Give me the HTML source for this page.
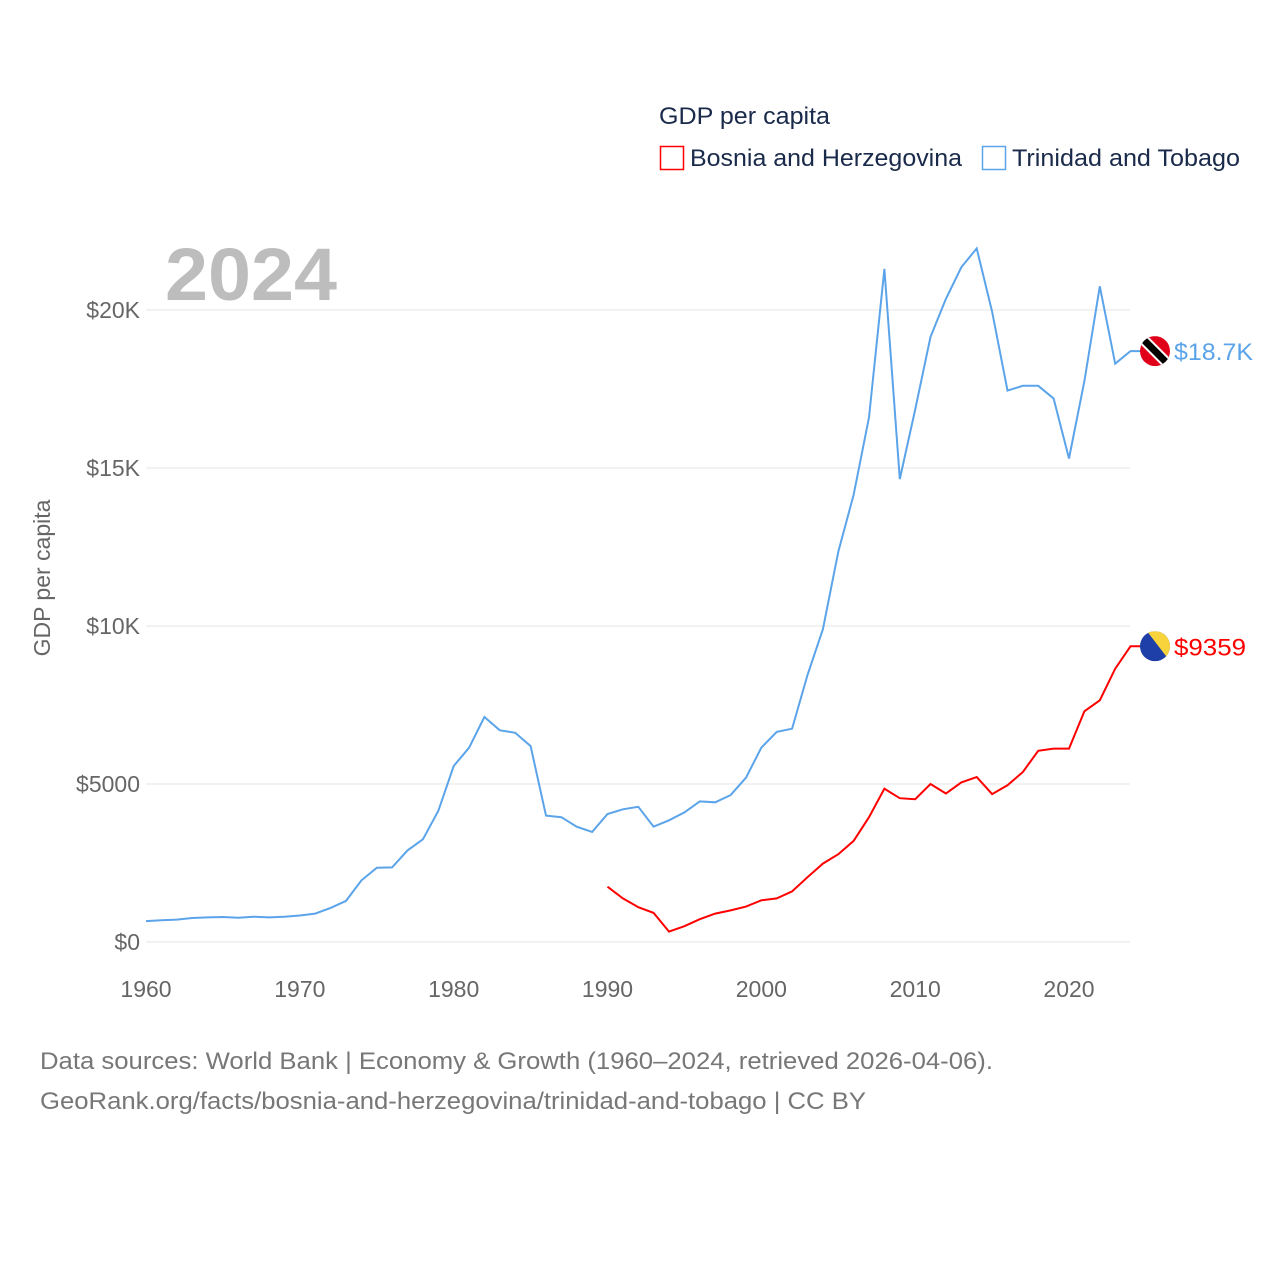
<!DOCTYPE html>
<html><head><meta charset="utf-8"><style>
body{margin:0;background:#fff;}
svg{display:block;font-family:"Liberation Sans",sans-serif;}
</style></head><body>
<svg width="1280" height="1280" viewBox="0 0 1280 1280">
<g id="grid"></g>
<text x="165" y="300" font-size="74" font-weight="bold" fill="#bdbdbd" textLength="172" lengthAdjust="spacingAndGlyphs">2024</text>
<g id="yticks"></g><g id="xticks"></g>
<text transform="translate(50,578) rotate(-90)" text-anchor="middle" font-size="23" fill="#666">GDP per capita</text>
<g id="series"></g>
<text x="659" y="124" font-size="24" fill="#1a2a4a" textLength="171" lengthAdjust="spacingAndGlyphs">GDP per capita</text>
<g><rect x="660.5" y="146.5" width="23" height="23" fill="none" stroke="#ff0000" stroke-width="1.5"/><text x="690" y="166" font-size="24" fill="#1a2a4a" textLength="272" lengthAdjust="spacingAndGlyphs">Bosnia and Herzegovina</text></g>
<g><rect x="982.5" y="146.5" width="23" height="23" fill="none" stroke="#5ba4ea" stroke-width="1.5"/><text x="1012" y="166" font-size="24" fill="#1a2a4a" textLength="228" lengthAdjust="spacingAndGlyphs">Trinidad and Tobago</text></g>
<text x="40" y="1069" font-size="24" fill="#777" textLength="953" lengthAdjust="spacingAndGlyphs">Data sources: World Bank | Economy &amp; Growth (1960–2024, retrieved 2026-04-06).</text>
<text x="40" y="1109" font-size="24" fill="#777" textLength="826" lengthAdjust="spacingAndGlyphs">GeoRank.org/facts/bosnia-and-herzegovina/trinidad-and-tobago | CC BY</text>
</svg>
<script>
const yTicks=[0,5000,10000,15000,20000];
const yTickLabels=["$0","$5000","$10K","$15K","$20K"];
const xTicks=[1960,1970,1980,1990,2000,2010,2020];
const ttYears=[];for(let y=1960;y<=2024;y++)ttYears.push(y);
const ttValues=[660,690,710,760,780,790,770,800,780,800,840,900,1080,1300,1950,2350,2360,2900,3250,4150,5570,6150,7120,6700,6620,6200,4000,3950,3650,3480,4050,4200,4280,3650,3850,4100,4450,4420,4650,5200,6150,6650,6750,8450,9900,12350,14150,16600,21300,14650,16850,19150,20350,21350,21950,19950,17450,17600,17600,17200,15300,17750,20750,18300,18700];
const baYears=[];for(let y=1990;y<=2024;y++)baYears.push(y);
const baValues=[1750,1380,1100,920,330,500,720,900,1000,1120,1320,1380,1600,2050,2480,2780,3200,3950,4850,4550,4520,5000,4700,5050,5220,4680,4960,5380,6050,6120,6120,7300,7650,8650,9359];
const X=y=>146+(y-1960)*(1069-146)/60;
const Y=v=>942-v*(942-310)/20000;
const NS="http://www.w3.org/2000/svg";
function mk(t,a,p){const e=document.createElementNS(NS,t);for(const k in a)e.setAttribute(k,a[k]);p.appendChild(e);return e;}
const grid=document.getElementById('grid'),yt=document.getElementById('yticks'),xt=document.getElementById('xticks'),sr=document.getElementById('series');
yTicks.forEach((v,i)=>{
 const l=mk('line',{x1:146,x2:1130,y1:Y(v),y2:Y(v),stroke:'#e6e6e6','stroke-width':1},grid);
 
 
 const t=mk('text',{x:140,y:Y(v)+8,'text-anchor':'end','font-size':23,fill:'#666'},yt);t.textContent=yTickLabels[i];
 
 
});
xTicks.forEach(v=>{
 const t=mk('text',{x:X(v),y:997,'text-anchor':'middle','font-size':23,fill:'#666'},xt);t.textContent=v;
 
 
});
function line(years,vals,color,name){
 const d=years.map((y,i)=>(i?'L':'M')+X(y).toFixed(1)+','+Y(vals[i]).toFixed(1)).join('')+'l10,0';
 const p=mk('path',{d:d,fill:'none',stroke:color,'stroke-width':2},sr);
 
 
}
line(ttYears,ttValues,'#5ba4ea','trinidad-line');
line(baYears,baValues,'#ff0000','bosnia-line');
const ty=Y(ttValues[ttValues.length-1]),by=Y(baValues[baValues.length-1]);
const f1=mk('g',{},sr);


const cp1=mk('clipPath',{id:'c1'},f1);mk('circle',{cx:1155,cy:ty,r:15},cp1);
const g1=mk('g',{'clip-path':'url(#c1)'},f1);
mk('rect',{x:1140,y:ty-15,width:30,height:30,fill:'#e0001a'},g1);
mk('line',{x1:1140,y1:ty-15,x2:1170,y2:ty+15,stroke:'#fff','stroke-width':11},g1);
mk('line',{x1:1140,y1:ty-15,x2:1170,y2:ty+15,stroke:'#000','stroke-width':7},g1);
const l1=mk('text',{x:1174,y:ty+9,'font-size':24,fill:'#5ba4ea',textLength:79,lengthAdjust:'spacingAndGlyphs'},sr);l1.textContent='$18.7K';


const f2=mk('g',{},sr);


const cp=mk('clipPath',{id:'c2'},f2);mk('circle',{cx:1155,cy:by,r:15},cp);
const g2=mk('g',{'clip-path':'url(#c2)'},f2);
mk('rect',{x:1140,y:by-15,width:30,height:30,fill:'#1f3fa8'},g2);
mk('polygon',{points:`1147,${by-15} 1170,${by-15} 1170,${by+15}`,fill:'#f9d33b'},g2);
const l2=mk('text',{x:1174,y:by+9,'font-size':24,fill:'#ff0000',textLength:72,lengthAdjust:'spacingAndGlyphs'},sr);l2.textContent='$9359';


</script>
</body></html>
